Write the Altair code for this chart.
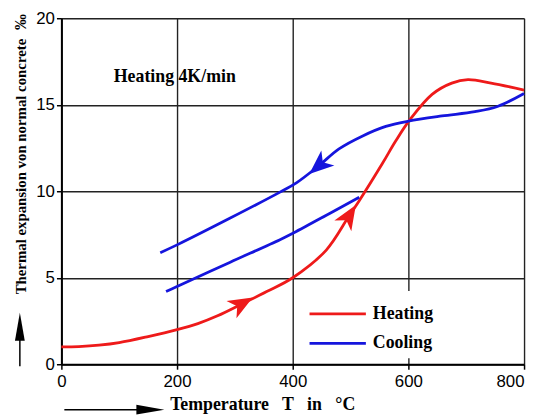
import altair as alt
import pandas as pd

# ---- data ----
heat_T = [0, 30, 65, 100, 150, 200, 236, 270, 313, 355, 400, 458, 497, 515, 555, 578, 603, 641, 675, 703, 743, 800]
heat_e = [1.0, 1.02, 1.1, 1.25, 1.6, 2.0, 2.35, 2.8, 3.5, 4.2, 5.0, 6.6, 8.55, 9.45, 11.6, 12.9, 14.15, 15.6, 16.25, 16.45, 16.25, 15.85]

cool1_T = [171, 200, 292, 378, 407, 446, 480, 521, 561, 600, 658, 715, 754, 800]
cool1_e = [6.45, 6.9, 8.45, 9.95, 10.5, 11.5, 12.45, 13.2, 13.75, 14.05, 14.35, 14.6, 14.9, 15.65]

cool2_T = [181, 200, 292, 378, 402, 463, 515]
cool2_e = [4.2, 4.5, 5.9, 7.2, 7.6, 8.7, 9.65]

arrow_T = [311, 497, 446]
arrow_e = [3.48, 8.55, 11.5]
arrow_angle = [60, 32, 229]
arrow_series = ["Heating", "Heating", "Cooling"]

series_names = ["Heating", "Cooling"]
series_colors = ["#ee1a1a", "#1515dd"]

x_ticks = [0, 200, 400, 600, 800]
y_ticks = [0, 5, 10, 15, 20]

title_text = "Heating 4K/min"
x_title = "Temperature\u00a0\u00a0 T\u00a0\u00a0 in\u00a0\u00a0 °C"
y_title = "Thermal expansion von normal concrete"
y_unit = "‰"

# ---- tables ----
heat = pd.DataFrame({"T": heat_T, "e": heat_e, "series": "Heating", "seg": "h"})
c1 = pd.DataFrame({"T": cool1_T, "e": cool1_e, "series": "Cooling", "seg": "c1"})
c2 = pd.DataFrame({"T": cool2_T, "e": cool2_e, "series": "Cooling", "seg": "c2"})
curves = pd.concat([heat, c1, c2], ignore_index=True)
arrows = pd.DataFrame({"T": arrow_T, "e": arrow_e, "angle": arrow_angle, "series": arrow_series})

color = alt.Color("series:N", scale=alt.Scale(domain=series_names, range=series_colors), legend=None)

common_axis = dict(
    grid=True, gridColor="#222", gridWidth=1.4,
    tickColor="black", tickSize=5, tickWidth=1.5,
    labelFont="Liberation Sans", labelFontSize=17, labelColor="black",
    domainColor="black", domainWidth=2, title=None,
)

x_enc = alt.X("T:Q", scale=alt.Scale(domain=[0, 800], nice=False),
              axis=alt.Axis(values=x_ticks, labelPadding=5,
                            labelAlign={"condition": {"test": "datum.value == 800", "value": "right"}, "value": "center"},
                            **common_axis))
y_enc = alt.Y("e:Q", scale=alt.Scale(domain=[0, 20], nice=False),
              axis=alt.Axis(values=y_ticks, labelPadding=2, **common_axis))

lines = alt.Chart(curves).mark_line(strokeWidth=2.8, interpolate="catmull-rom").encode(
    x=x_enc, y=y_enc, color=color, detail="seg:N", order="T:Q"
)

arrow_path = "M0,-1 L0.75,0.85 L0,0.35 L-0.75,0.85 Z"
heads = alt.Chart(arrows).mark_point(shape=arrow_path, filled=True, opacity=1, size=720).encode(
    x="T:Q", y="e:Q", color=color, angle=alt.Angle("angle:Q", scale=None)
)

one = pd.DataFrame({"a": [0]})

def txt(text, x, y, size, angle=0, align="left", weight="bold", font="Liberation Serif"):
    return alt.Chart(one).mark_text(text=text, fontSize=size, font=font, fontWeight=weight,
                                    align=align, baseline="middle", angle=angle, color="black").encode(
        x=alt.value(x), y=alt.value(y))

title_mark = txt(title_text, 53, 59, 18)
ytitle = txt(y_title, -41, 150, 15, angle=270, align="center")
yunit = txt(y_unit, -41, 4, 16, angle=270, align="center")
xtitle = txt(x_title, 110, 391, 18)

# axis arrows
xa_line = alt.Chart(one).mark_rule(color="black", strokeWidth=1.5).encode(
    x=alt.value(3), x2=alt.value(84), y=alt.value(396))
xa_head = alt.Chart(one).mark_point(shape="M-1,-0.35 L1,0 L-1,0.35 Z", filled=True, opacity=1,
                                    size=800, color="black").encode(x=alt.value(90), y=alt.value(396))
ya_line = alt.Chart(one).mark_rule(color="black", strokeWidth=1.5).encode(
    x=alt.value(-42), y=alt.value(352), y2=alt.value(320))
ya_head = alt.Chart(one).mark_point(shape="M-0.35,1 L0,-1 L0.35,1 Z", filled=True, opacity=1,
                                    size=800, color="black").encode(x=alt.value(-42), y=alt.value(312))

# legend
leg_bg = alt.Chart(one).mark_rect(color="white").encode(
    x=alt.value(243), x2=alt.value(463), y=alt.value(276), y2=alt.value(344))
leg_items = []
for i, (name, col) in enumerate(zip(series_names, series_colors)):
    yy = 299 + 30 * i
    leg_items.append(alt.Chart(one).mark_rule(color=col, strokeWidth=2.8).encode(
        x=alt.value(251), x2=alt.value(308), y=alt.value(yy)))
    leg_items.append(txt(name, 315, yy, 18))

chart = alt.layer(
    leg_bg, lines, heads, title_mark, ytitle, yunit, xtitle,
    xa_line, xa_head, ya_line, ya_head, *leg_items
).properties(
    width=468, height=350,
    autosize=alt.AutoSizeParams(type="none"),
    padding={"left": 54, "top": 8, "right": 5, "bottom": 50},
).configure_view(stroke="black", strokeWidth=2).configure(background="white")

chart.save("out.html", embed_options={"renderer": "svg", "actions": False})
